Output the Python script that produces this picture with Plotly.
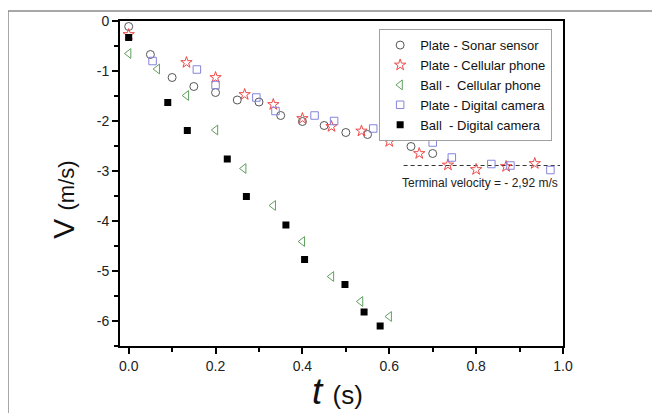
import plotly.graph_objects as go

# Plate - Sonar sensor
sonar_t = [0.00, 0.05, 0.10, 0.15, 0.20, 0.25, 0.30, 0.35, 0.40, 0.45, 0.50, 0.55, 0.60, 0.65, 0.70]
sonar_v = [-0.11, -0.67, -1.13, -1.31, -1.43, -1.58, -1.62, -1.89, -2.01, -2.09, -2.23, -2.27, -2.27, -2.51, -2.65]

# Plate - Cellular phone
pcell_t = [0.00, 0.133, 0.200, 0.267, 0.333, 0.400, 0.467, 0.536, 0.600, 0.669, 0.735, 0.800, 0.869, 0.935]
pcell_v = [-0.27, -0.83, -1.13, -1.47, -1.67, -1.95, -2.11, -2.20, -2.41, -2.65, -2.88, -2.97, -2.91, -2.85]

# Ball - Cellular phone
bcell_t = [0.00, 0.066, 0.133, 0.200, 0.265, 0.333, 0.400, 0.467, 0.534, 0.600]
bcell_v = [-0.65, -0.96, -1.49, -2.18, -2.95, -3.69, -4.41, -5.11, -5.61, -5.91]

# Plate - Digital camera
pcam_t = [0.055, 0.157, 0.200, 0.294, 0.338, 0.428, 0.473, 0.563, 0.608, 0.700, 0.744, 0.835, 0.879, 0.971]
pcam_v = [-0.80, -0.97, -1.28, -1.53, -1.80, -1.89, -2.00, -2.15, -2.30, -2.43, -2.73, -2.86, -2.89, -2.98]

# Ball - Digital camera
bcam_t = [0.000, 0.090, 0.135, 0.227, 0.271, 0.362, 0.405, 0.498, 0.542, 0.579]
bcam_v = [-0.33, -1.63, -2.19, -2.76, -3.51, -4.08, -4.77, -5.27, -5.82, -6.10]

# Terminal velocity reference line
term_t = [0.633, 0.993]
term_v = [-2.89, -2.89]
term_label = "Terminal velocity = - 2,92 m/s"

x_ticks = [0.0, 0.2, 0.4, 0.6, 0.8, 1.0]
x_ticktext = ["0.0", "0.2", "0.4", "0.6", "0.8", "1.0"]
y_ticks = [0, -1, -2, -3, -4, -5, -6]
y_ticktext = ["0", "-1", "-2", "-3", "-4", "-5", "-6"]

FONT = "Arial, Liberation Sans, sans-serif"

fig = go.Figure()

fig.add_trace(go.Scatter(x=term_t, y=term_v, mode="lines",
                         line=dict(color="#333333", width=1, dash="4px,3px"),
                         showlegend=False, hoverinfo="skip"))

fig.add_trace(go.Scatter(x=sonar_t, y=sonar_v, mode="markers", name="Plate - Sonar sensor",
                         marker=dict(symbol="circle-open", size=8, color="#555555", line=dict(width=1))))
fig.add_trace(go.Scatter(x=pcell_t, y=pcell_v, mode="markers", name="Plate - Cellular phone",
                         marker=dict(symbol="star-open", size=8.5, color="#f04848", line=dict(width=1))))
fig.add_trace(go.Scatter(x=bcell_t, y=bcell_v, mode="markers", name="Ball -  Cellular phone",
                         marker=dict(symbol="triangle-left-open", size=8.5, color="#60a060", line=dict(width=1))))
fig.add_trace(go.Scatter(x=pcam_t, y=pcam_v, mode="markers", name="Plate - Digital camera",
                         marker=dict(symbol="square-open", size=7.5, color="#8484dc", line=dict(width=1))))
fig.add_trace(go.Scatter(x=bcam_t, y=bcam_v, mode="markers", name="Ball  - Digital camera",
                         marker=dict(symbol="square", size=7, color="#000000")))

fig.add_annotation(x=0.81, y=-3.24, xref="x", yref="y", text=term_label, showarrow=False,
                   font=dict(family=FONT, size=12, color="#222222"))

# axis titles
fig.add_annotation(x=-0.168, y=0.45, xref="paper", yref="paper", textangle=-90, showarrow=False,
                   text="V <span style='font-size:22px'>(m/s)</span>",
                   font=dict(family=FONT, size=30, color="#111111"))
fig.add_annotation(x=0.49, y=-0.21, xref="paper", yref="paper", showarrow=False,
                   text="<i>t</i> <span style='font-size:26px'>(s)</span>",
                   font=dict(family=FONT, size=37, color="#111111"))

# outer frame (pixel offsets relative to the plot area's top-left corner)
fig.add_shape(type="rect", xref="paper", yref="paper",
              xsizemode="pixel", ysizemode="pixel", xanchor=0, yanchor=1,
              x0=-112, x1=600, y0=-500, y1=10,
              line=dict(color="#8a8a8a", width=1.5), layer="below")

axis_common = dict(showgrid=False, zeroline=False, showline=True, linecolor="#000000", linewidth=2,
                   mirror=True, ticks="outside", ticklen=6, tickwidth=1.5, tickcolor="#000000",
                   automargin=False,
                   tickfont=dict(family=FONT, size=14, color="#222222"))

fig.update_xaxes(range=[-0.02, 1.0], tickvals=x_ticks, ticktext=x_ticktext,
                 minor=dict(dtick=0.1, tick0=0, ticks="outside", ticklen=4, tickwidth=1.5, tickcolor="#000000"),
                 **axis_common)
fig.update_yaxes(range=[-6.5, 0], tickvals=y_ticks, ticktext=y_ticktext,
                 minor=dict(dtick=0.5, tick0=0, ticks="outside", ticklen=4, tickwidth=1.5, tickcolor="#000000"),
                 **axis_common)

fig.update_layout(
    width=660, height=413,
    margin=dict(l=112, r=105, t=13, b=75, autoexpand=False),
    paper_bgcolor="white", plot_bgcolor="white",
    font=dict(family=FONT),
    legend=dict(x=0.585, y=0.975, xanchor="left", yanchor="top",
                bgcolor="white", bordercolor="#a0a0a0", borderwidth=1,
                font=dict(family=FONT, size=13, color="#111111"),
                itemwidth=30, tracegroupgap=0),
)

fig.write_html("out.html")
